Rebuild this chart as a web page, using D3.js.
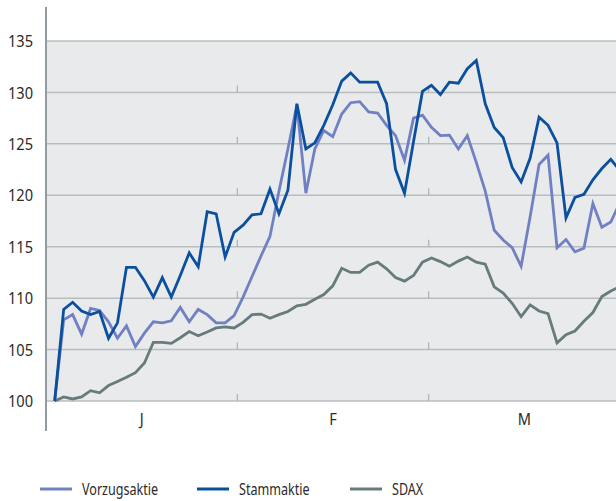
<!DOCTYPE html>
<html>
<head>
<meta charset="utf-8">
<script src="https://cdn.jsdelivr.net/npm/d3@7"></script>
<style>
  body { margin: 0; background: #fff; }
  svg text { font-family: "Noto Sans", "Open Sans", sans-serif; fill: #2b2b2b; }
</style>
</head>
<body>
<svg width="616" height="501"></svg>
<script>
// values, one per trading day (index 0 = start)
var vorzug = [100, 107.9, 108.4, 106.5, 109.0, 108.8, 107.7, 106.1, 107.3, 105.3,
  106.6, 107.7, 107.6, 107.8, 109.1, 107.7, 108.9, 108.4, 107.6, 107.6,
  108.3, 110.1, 112.1, 114.1, 116.0, 120.4, 124.5, 128.8, 120.2, 124.5,
  126.3, 125.7, 127.9, 129.0, 129.1, 128.1, 128.0, 126.8, 125.8, 123.4,
  127.5, 127.8, 126.6, 125.8, 125.85, 124.5, 125.8, 123.2, 120.4, 116.6,
  115.65, 114.9, 113.1, 117.9, 123.0, 123.9, 114.9, 115.7, 114.5, 114.85,
  119.2, 116.9, 117.4, 119.3];

var stamm = [100, 108.9, 109.6, 108.75, 108.4, 108.7, 106.1, 107.6, 113.0, 113.0,
  111.7, 110.1, 112.0, 110.1, 112.2, 114.4, 113.05, 118.4, 118.2, 114.0,
  116.4, 117.1, 118.1, 118.2, 120.6, 118.2, 120.5, 128.9, 124.5, 125.1,
  126.8, 128.8, 131.1, 131.9, 131.0, 131.0, 131.0, 128.9, 122.5, 120.2,
  125.2, 130.1, 130.7, 129.8, 131.0, 130.9, 132.3, 133.1, 128.9, 126.6,
  125.6, 122.7, 121.3, 123.6, 127.6, 126.8, 125.1, 117.8, 119.8, 120.1,
  121.5, 122.6, 123.5, 122.4];

var sdax = [100, 100.4, 100.2, 100.4, 101.0, 100.8, 101.5, 101.9, 102.3, 102.75,
  103.7, 105.7, 105.7, 105.6, 106.15, 106.75, 106.35, 106.7, 107.1, 107.2,
  107.1, 107.65, 108.4, 108.45, 108.05, 108.4, 108.7, 109.25, 109.4, 109.9,
  110.35, 111.2, 112.9, 112.5, 112.5, 113.2, 113.5, 112.85, 112.0, 111.65,
  112.2, 113.5, 113.9, 113.55, 113.1, 113.6, 114.0, 113.5, 113.3, 111.1,
  110.5, 109.5, 108.2, 109.35, 108.75, 108.5, 105.65, 106.45, 106.8, 107.75,
  108.6, 110.15, 110.7, 111.1];

var months = ["J", "F", "M"];
var yTicks = [100, 105, 110, 115, 120, 125, 130, 135];

var series = [
  { name: "SDAX", values: sdax, color: "#677a7c" },
  { name: "Vorzugsaktie", values: vorzug, color: "#7080c3" },
  { name: "Stammaktie", values: stamm, color: "#0b4f9f" }
];
var legendOrder = ["Vorzugsaktie", "Stammaktie", "SDAX"];

var svg = d3.select("svg"),
    width = +svg.attr("width"),
    height = +svg.attr("height");

var left = 47, right = 620;

var y = d3.scaleLinear().domain([100, 135]).range([401, 41]);
var x = d3.scaleLinear().domain([0, stamm.length - 1]).range([54.7, 619.8]);
var xm = d3.scaleBand().domain(months).range([46, 620]);

// plot background
svg.append("rect")
    .attr("x", left).attr("y", y(135))
    .attr("width", right - left).attr("height", y(100) - y(135))
    .attr("fill", "#e9eaec");

// grid lines
svg.append("g").selectAll("line")
  .data(yTicks).enter().append("line")
    .attr("x1", left).attr("x2", right)
    .attr("y1", function(d) { return y(d); })
    .attr("y2", function(d) { return y(d); })
    .attr("stroke", "#b8bebf").attr("stroke-width", 1.5);

// small month separators on each grid line
var seps = [xm("F"), xm("M")];
var tickG = svg.append("g");
seps.forEach(function(sx) {
  tickG.selectAll(null)
    .data(yTicks.filter(function(d) { return d < 135; }))
    .enter().append("line")
      .attr("x1", sx).attr("x2", sx)
      .attr("y1", function(d) { return y(d) - 7; })
      .attr("y2", function(d) { return y(d); })
      .attr("stroke", "#aab1b3").attr("stroke-width", 1.2);
});

// y axis line
svg.append("line")
    .attr("x1", 46).attr("x2", 46).attr("y1", 7).attr("y2", 431)
    .attr("stroke", "#6c7c80").attr("stroke-width", 1.5);

// condensed look: squeeze text horizontally
function squeeze(tx, ty, s) {
  return "translate(" + tx + "," + ty + ") scale(" + s + ",1)";
}

// y tick labels
svg.append("g").selectAll("text")
  .data(yTicks).enter().append("text")
    .attr("transform", function(d) { return squeeze(33, y(d), 0.86); })
    .attr("dy", "0.36em")
    .attr("text-anchor", "end")
    .style("font-size", "17px")
    .text(function(d) { return d; });

// month labels
svg.append("g").selectAll("text")
  .data(months).enter().append("text")
    .attr("transform", function(d) { return squeeze(xm(d) + xm.bandwidth() / 2, 425, 0.86); })
    .attr("text-anchor", "middle")
    .style("font-size", "17px")
    .text(function(d) { return d; });

// lines
var line = d3.line()
    .x(function(d, i) { return x(i); })
    .y(function(d) { return y(d); });

svg.append("g").selectAll("path")
  .data(series).enter().append("path")
    .attr("d", function(s) { return line(s.values); })
    .attr("fill", "none")
    .attr("stroke", function(s) { return s.color; })
    .attr("stroke-width", 2.8)
    .attr("stroke-linejoin", "miter");

// legend
var legX = [40, 197, 350];
var leg = svg.append("g").selectAll("g")
  .data(legendOrder).enter().append("g")
    .attr("transform", function(d, i) { return "translate(" + legX[i] + ",489)"; });

leg.append("line")
    .attr("x1", 0).attr("x2", 32)
    .attr("stroke", function(d) {
      return series.filter(function(s) { return s.name === d; })[0].color;
    })
    .attr("stroke-width", 3);

leg.append("text")
    .attr("transform", squeeze(42, 0, 0.74))
    .attr("dy", "0.36em")
    .style("font-size", "17px")
    .text(function(d) { return d; });
</script>
</body>
</html>
